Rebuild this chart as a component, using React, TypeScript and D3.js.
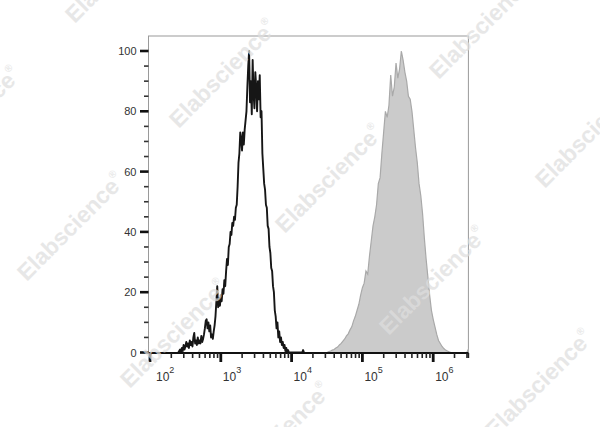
import * as d3 from "d3";

const WIDTH = 600;
const HEIGHT = 427;

// unstained / isotype (black outline), log10 bins
const CONTROL_START = 2.4;
const CONTROL_STEP = 0.0125;
const controlCounts = [
  0, 0.5, 1, 0, 1.5, 0.5, 2.5, 1, 2, 3.5, 2, 3, 1.5, 4, 2.5, 3.5, 2, 5, 6.5, 3,
  4, 2.5, 5, 3, 4, 3, 5.5, 3.5, 4.5, 6, 8, 10.5, 11, 8, 10, 7, 9, 5, 6, 4.5, 7,
  9, 12, 17, 22, 15, 18, 15.5, 19, 17, 21, 19.5, 24, 22, 27, 31, 29, 35, 36, 40,
  39, 43, 42, 45, 44, 48, 49, 55, 63, 66, 73, 71, 67, 73, 69, 74, 77, 80, 88,
  95, 100, 83, 90, 79, 97, 86, 81, 93, 88, 80, 90, 84, 92, 78, 80, 66, 61, 56,
  54, 49, 48, 42, 41, 35, 33, 28, 27, 22, 20, 14, 12, 8, 10, 5, 7, 3.5, 5, 2.5,
  3.5, 1.5, 2.5, 0.5, 1.5, 0, 0.8, 0, 0, 0, 0, 0, 0, 0, 0, 0, 0, 0, 0, 0, 0,
  0, 0, 0.8, 0,
];

// stained sample (grey filled), log10 bins
const STAINED_START = 4.5;
const STAINED_STEP = 0.025;
const stainedCounts = [
  0, 0.3, 0.5, 0.8, 1, 1.5, 1.8, 2.5, 3, 3.8, 4.5, 5.5, 6.2, 7.5, 8.5, 10.5,
  12, 14, 16, 19, 21.5, 23, 27, 26, 32, 37, 42, 45, 49, 56, 58, 66, 73, 80, 78,
  82, 92, 85, 88, 96, 91, 94, 100, 97, 93, 90, 85, 84, 80, 74, 68, 63, 56, 52,
  46, 38, 31, 25, 19, 14, 11, 8.5, 6, 4, 3, 2, 1.3, 0.8, 0.5, 0.2, 0, 0, 0, 0,
  0, 0, 0, 0, 0, 0, 1.2, 2,
];

const yMajorTicks = [0, 20, 40, 60, 80, 100];
const yMinorTicks = [5, 10, 15, 25, 30, 35, 45, 50, 55, 65, 70, 75, 85, 90, 95];
const xDecades = [2, 3, 4, 5, 6];

const watermarks: [number, number][] = [
  [120, -30],
  [224, 75],
  [330, 180],
  [434, 282],
  [540, 385],
  [-32, 122],
  [72, 228],
  [175, 335],
  [278, 438],
  [484, 26],
  [590, 135],
];

const LEFT = 148.5;
const RIGHT = 468.4;
const TOP = 36;
const BASE = 353;

const toBins = (start: number, step: number, counts: number[]) =>
  counts.map((c, i) => ({ v: Math.pow(10, start + i * step), c }));

export default function App() {
  const x = d3.scaleLog().domain([100, 1e6]).range([150, 433.2]);
  const y = d3.scaleLinear().domain([0, 100]).range([352.5, 51]);

  const control = toBins(CONTROL_START, CONTROL_STEP, controlCounts);
  const stained = toBins(STAINED_START, STAINED_STEP, stainedCounts);

  const line = d3
    .line<{ v: number; c: number }>()
    .x((d) => x(d.v))
    .y((d) => y(d.c));
  const area = d3
    .area<{ v: number; c: number }>()
    .x((d) => x(d.v))
    .y0(y(0))
    .y1((d) => y(d.c));

  const minor: number[] = [];
  xDecades.forEach((p) => {
    for (let k = 2; k <= 9; k++) {
      const v = k * Math.pow(10, p);
      if (x(v) < RIGHT) minor.push(v);
    }
  });

  const font = "'Liberation Sans', Arial, sans-serif";

  return (
    <div style={{ position: "absolute", left: 0, top: 0 }}>
      <svg width={WIDTH} height={HEIGHT} style={{ display: "block" }}>
        <rect width={WIDTH} height={HEIGHT} fill="#fff" />
        <defs>
          <clipPath id="plot">
            <rect x={LEFT} y={TOP} width={RIGHT - LEFT} height={BASE - TOP} />
          </clipPath>
        </defs>

        {/* frame */}
        <rect
          x={LEFT}
          y={TOP}
          width={RIGHT - LEFT}
          height={BASE - TOP}
          fill="none"
          stroke="#9a9a9a"
          strokeWidth={1}
        />

        <g clipPath="url(#plot)">
          <path
            d={area(stained) || ""}
            fill="#cbcbcb"
            stroke="#a9a9a9"
            strokeWidth={1.2}
          />
          <path
            d={line(control) || ""}
            fill="none"
            stroke="#161616"
            strokeWidth={1.9}
            strokeLinejoin="round"
          />
        </g>

        {/* y axis */}
        {yMinorTicks.map((t) => (
          <line
            key={"ym" + t}
            x1={144}
            x2={LEFT}
            y1={y(t)}
            y2={y(t)}
            stroke="#333"
            strokeWidth={1.6}
          />
        ))}
        {yMajorTicks.map((t) => (
          <g key={"y" + t}>
            <line
              x1={140}
              x2={LEFT}
              y1={y(t)}
              y2={y(t)}
              stroke="#111"
              strokeWidth={2.6}
            />
            <text
              x={136.5}
              y={y(t) + 4}
              textAnchor="end"
              fontFamily={font}
              fontSize={11}
              fill="#333"
            >
              {t}
            </text>
          </g>
        ))}

        {/* x axis */}
        <line
          x1={LEFT - 1}
          x2={RIGHT}
          y1={BASE}
          y2={BASE}
          stroke="#111"
          strokeWidth={2.2}
        />
        {minor.map((v) => (
          <line
            key={"xm" + v}
            x1={x(v)}
            x2={x(v)}
            y1={BASE}
            y2={BASE + 5}
            stroke="#222"
            strokeWidth={1.6}
          />
        ))}
        {xDecades.map((p) => {
          const px = x(Math.pow(10, p));
          return (
            <g key={"xd" + p}>
              <line
                x1={px}
                x2={px}
                y1={BASE}
                y2={BASE + 9}
                stroke="#111"
                strokeWidth={2.8}
              />
              <text
                x={px + (p === 2 ? 6 : 2)}
                y={381}
                fontFamily={font}
                fontSize={12}
                fill="#333"
              >
                10
                <tspan dy={-8} fontSize={9}>
                  {p}
                </tspan>
              </text>
            </g>
          );
        })}
        <line
          x1={RIGHT}
          x2={RIGHT}
          y1={BASE}
          y2={BASE + 5}
          stroke="#222"
          strokeWidth={1.6}
        />

        {/* watermark */}
        {watermarks.map(([cx, cy], i) => (
          <text
            key={"wm" + i}
            transform={`translate(${cx},${cy}) rotate(-45)`}
            textAnchor="middle"
            dominantBaseline="middle"
            fontFamily={font}
            fontWeight="bold"
            fontSize={23}
            fill="#dedede"
            opacity={0.72}
          >
            Elabscience
            <tspan fontSize={10} dy={-9}>
              ®
            </tspan>
          </text>
        ))}
      </svg>
    </div>
  );
}
